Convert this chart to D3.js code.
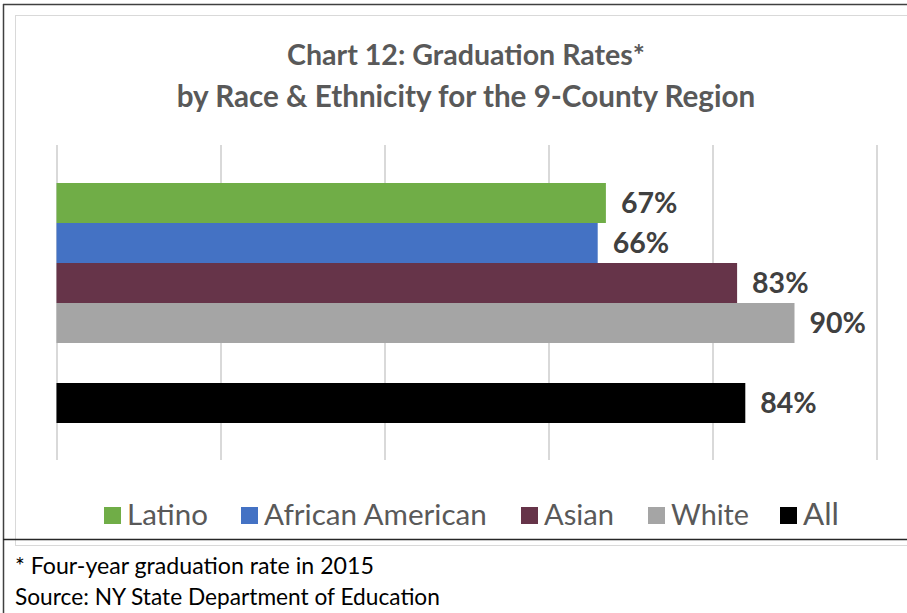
<!DOCTYPE html>
<html>
<head>
<meta charset="utf-8">
<script src="https://cdn.jsdelivr.net/npm/d3@7"></script>
<style>
  body { margin: 0; background: #fff; }
  svg { display: block; }
</style>
</head>
<body>
<div class="vis-barchart"></div>
<script>
// data
const groups = ['Latino', 'African American', 'Asian', 'White', 'All'];
const rates = [67, 66, 83, 90, 84];
const colors = ['#70AD47', '#4472C4', '#663449', '#A5A5A5', '#000000'];
// rows of the plot, the empty one is the gap before "All"
const rows = ['Latino', 'African American', 'Asian', 'White', '', 'All'];
const xTicks = [0, 20, 40, 60, 80, 100];
const titleLines = ['Chart 12: Graduation Rates*', 'by Race & Ethnicity for the 9-County Region'];
const notes = ['* Four-year graduation rate in 2015', 'Source: NY State Department of Education'];

const W = 907, H = 613;
const font = 'Lato, "Open Sans", sans-serif';

const svg = d3.select('.vis-barchart').append('svg')
    .attr('width', W)
    .attr('height', H);

// shrink/grow font so a text fits the width it has in the original
function fit(sel, target) {
    const w = sel.node().getComputedTextLength();
    const fs = parseFloat(sel.attr('font-size'));
    sel.attr('font-size', fs * target / w);
}

// frames
svg.append('rect')
    .attr('x', 15.5).attr('y', 15.5)
    .attr('width', W).attr('height', 530)
    .attr('fill', 'none').attr('stroke', '#D9D9D9');
svg.append('line')
    .attr('x1', 3.5).attr('x2', 3.5).attr('y1', 4).attr('y2', H)
    .attr('stroke', '#404040').attr('stroke-width', 1.5);
svg.append('line')
    .attr('x1', 3).attr('x2', W).attr('y1', 4.5).attr('y2', 4.5)
    .attr('stroke', '#404040').attr('stroke-width', 1.5);
svg.append('line')
    .attr('x1', 3).attr('x2', W).attr('y1', 539.5).attr('y2', 539.5)
    .attr('stroke', '#262626').attr('stroke-width', 1.5);

// title
const title = svg.append('g')
    .attr('font-family', font)
    .attr('font-weight', 'bold')
    .attr('fill', '#595959')
    .attr('text-anchor', 'middle');
title.selectAll('text')
    .data(titleLines)
    .join('text')
    .attr('x', 466)
    .attr('y', (d, i) => 65 + i * 42)
    .attr('font-size', 26)
    .text(d => d)
    .each(function (d, i) { fit(d3.select(this), i === 0 ? 358 : 579); });

// scales
const x = d3.scaleLinear().domain([0, 100]).range([56.5, 876.5]);
const y = d3.scaleBand().domain(rows).range([183, 423]);

const plot = svg.append('g');

plot.append('g')
    .attr('transform', 'translate(0,145)')
    .call(d3.axisBottom(x).tickValues(xTicks).tickSize(315).tickFormat(''))
    .call(g => g.select('.domain').remove())
    .call(g => g.selectAll('.tick line').attr('stroke', '#D9D9D9').attr('stroke-width', 2));

plot.selectAll('rect.bar')
    .data(groups)
    .join('rect')
    .attr('class', 'bar')
    .attr('x', x(0))
    .attr('y', d => y(d))
    .attr('width', (d, i) => x(rates[i]) - x(0))
    .attr('height', y.bandwidth())
    .attr('fill', (d, i) => colors[i]);

plot.selectAll('text.lab')
    .data(groups)
    .join('text')
    .attr('class', 'lab')
    .attr('x', (d, i) => x(rates[i]) + 15)
    .attr('y', d => y(d) + y.bandwidth() / 2 + 10)
    .attr('font-family', font)
    .attr('font-weight', 'bold')
    .attr('font-size', 28.5)
    .attr('fill', '#404040')
    .text((d, i) => rates[i] + '%');

// legend
const legend = svg.append('g')
    .attr('font-family', font)
    .attr('fill', '#595959');
const legX = [104, 241, 521, 648, 780];
const legW = [81, 223, 70, 78, 36];
const item = legend.selectAll('g')
    .data(groups)
    .join('g')
    .attr('transform', (d, i) => `translate(${legX[i]},507)`);
item.append('rect')
    .attr('width', 17).attr('height', 17)
    .attr('fill', (d, i) => colors[i]);
item.append('text')
    .attr('x', 23).attr('y', 18)
    .attr('font-size', 28)
    .text(d => d)
    .each(function (d, i) { fit(d3.select(this), legW[i]); });

// footnotes
svg.append('g')
    .attr('font-family', font)
    .attr('fill', '#000')
    .selectAll('text')
    .data(notes)
    .join('text')
    .attr('x', 15)
    .attr('y', (d, i) => 574 + i * 31)
    .attr('font-size', 20)
    .text(d => d)
    .each(function (d, i) { fit(d3.select(this), i === 0 ? 359 : 425); });
</script>
</body>
</html>
